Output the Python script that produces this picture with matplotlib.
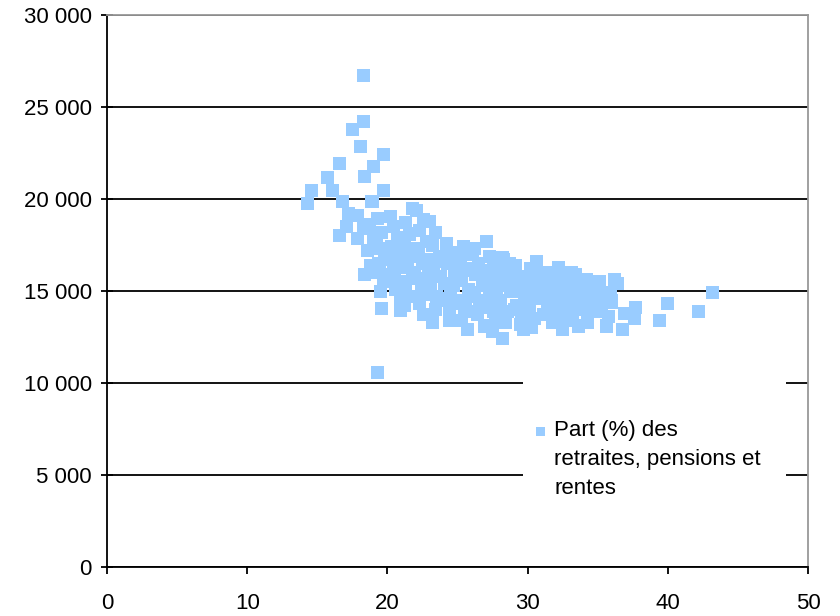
import numpy as np
import matplotlib
matplotlib.use("Agg")
import matplotlib.pyplot as plt
from matplotlib.patches import Rectangle
from matplotlib.ticker import FuncFormatter

plt.rcParams['font.family'] = ['Liberation Sans', 'DejaVu Sans']

# part (%) des retraites, pensions et rentes  /  revenu
part_x = [
    18.3, 18.3, 17.5, 18.1, 19.7, 16.6, 19.0, 18.4, 15.7, 14.6, 16.1, 19.7, 14.3, 16.8, 18.9,
    21.8, 17.2, 17.9, 19.3, 20.2, 17.1, 18.3, 16.6, 17.9, 19.6, 20.9, 19.3,
    18.6, 18.8, 18.4, 19.0, 18.7, 19.3, 19.5, 19.9,
    19.6, 19.2, 19.8, 19.4, 19.7, 19.5, 20.0,
    20.4, 20.7, 20.3, 20.8, 20.5, 20.2, 20.6, 20.9, 20.4, 20.3,
    21.3, 21.6, 21.2, 21.7, 21.4, 21.8, 21.3, 21.6, 21.2,
    22.1, 22.6, 22.3, 22.8, 22.2, 22.5, 22.9, 22.4, 22.7, 22.3, 22.6,
    23.0, 23.4, 23.2, 23.7, 23.3, 23.8, 23.1, 23.6, 23.4, 23.2,
    24.2, 24.6, 24.3, 24.8, 24.1, 24.5, 24.9, 24.4,
    25.4, 25.2, 25.7, 25.3, 25.8, 25.1, 25.6, 25.3, 25.7,
    26.1, 26.5, 26.3, 26.8, 26.2, 26.6, 26.4, 26.9,
    27.1, 27.3, 27.6, 27.2, 27.8, 27.4, 27.1, 27.7, 27.5,
    28.2, 28.5, 28.3, 28.8, 28.1, 28.6, 28.4, 28.2,
    29.1, 29.5, 29.3, 29.8, 29.2, 29.6, 29.7,
    30.2, 30.6, 30.4, 30.8, 30.1, 30.5, 30.3,
    31.3, 31.7, 31.2, 31.6, 31.4, 31.8,
    32.2, 32.6, 32.4, 32.8, 32.3, 32.7, 32.5,
    33.1, 33.5, 33.3, 33.8, 33.2, 33.6,
    34.2, 34.6, 34.4, 34.8, 34.3,
    35.1, 35.5, 35.3, 35.8, 35.6,
    36.2, 35.9, 36.4, 36.9, 36.8,
    37.7, 37.6, 39.4, 40.0, 42.2, 43.2,
    24.0, 25.0, 26.0, 27.0, 28.0, 29.0, 30.0, 31.0, 32.0, 33.0,
    23.5, 24.7, 25.9, 27.3, 28.7, 30.2, 31.5, 32.9, 34.1, 35.2,
    21.0, 22.0, 23.0, 24.2, 26.2, 28.3, 30.6, 33.4, 34.9, 36.0,
    21.9, 22.9, 23.9, 24.9, 25.9, 26.9, 27.9, 28.9, 29.9, 30.9, 31.9, 32.9, 33.9, 34.7, 35.4,
    21.1, 22.1, 23.1, 24.1, 25.1, 26.1, 27.1, 28.1, 29.1, 30.1, 31.1, 32.1, 33.1, 34.1, 35.1,
    20.1, 21.0, 22.0, 23.0, 24.4, 25.5, 26.6, 27.6, 28.7, 29.5, 30.7, 31.9, 33.0, 34.0, 36.0,
]
revenu_y = [
    26700, 24200, 23800, 22850, 22420, 21930, 21760, 21220, 21160, 20450, 20450, 20450, 19750, 19850, 19850,
    19470, 19200, 19090, 18930, 19040, 18490, 18380, 18000, 17840, 14070, 13960, 10580,
    17200, 16400, 15900, 17900, 18600, 16000, 17300, 16700,
    18200, 17600, 16900, 16500, 15500, 15000, 15900,
    18500, 17900, 17400, 16800, 16200, 15600, 15100, 14600, 16600, 17100,
    18700, 18100, 17500, 16900, 16300, 15800, 15200, 14700, 14200,
    19400, 18900, 18300, 17700, 17100, 16500, 15900, 15400, 14800, 14300, 13700,
    18800, 18200, 17500, 16900, 16300, 15800, 15200, 14600, 14000, 13300,
    17600, 17100, 16500, 16000, 15400, 14900, 14300, 13800,
    17400, 16800, 16200, 15600, 15100, 14500, 14000, 13400, 12900,
    17000, 16500, 15900, 15300, 14800, 14200, 13700, 13100,
    17700, 16900, 16300, 15700, 15200, 14600, 14100, 13500, 12800,
    16800, 16200, 15600, 15000, 14500, 13900, 13300, 12400,
    16400, 15800, 15300, 14700, 14200, 13600, 12900,
    16200, 15700, 15100, 14600, 14000, 13500, 13000,
    16000, 15500, 15000, 14400, 13900, 13300,
    16300, 15700, 15100, 14600, 14000, 13400, 12900,
    16000, 15400, 14900, 14300, 13700, 13100,
    15600, 15000, 14500, 13900, 13300,
    15500, 14800, 14200, 13600, 13100,
    15600, 14900, 15400, 13800, 12900,
    14100, 13500, 13400, 14300, 13900, 14900,
    16600, 15700, 16100, 15500, 15300, 15000, 14900, 14800, 14700, 14500,
    14700, 15300, 14700, 14900, 16000, 15900, 14800, 15500, 14900, 14000,
    16400, 15700, 16200, 17200, 17300, 16700, 16600, 15900, 14400, 14400,
    16000, 15600, 16600, 15800, 14900, 16100, 15900, 15400, 15600, 15400, 14600, 14200, 14600, 15300, 14400,
    15500, 14700, 16700, 14500, 16300, 13900, 14400, 14100, 14000, 14300, 13700, 15400, 13600, 15200, 13900,
    16700, 17600, 17300, 15000, 13400, 13900, 14500, 13900, 16500, 13200, 16000, 15800, 15700, 14000, 14500,
]

serie_label = "Part (%) des\nretraites, pensions et\nrentes"

fig = plt.figure(figsize=(8.4, 6.16), dpi=100)
ax = fig.add_axes([0.1274, 0.0795, 0.9619 - 0.1274, 0.9756 - 0.0795])

ax.scatter(part_x, revenu_y, marker='s', s=88, color='#99CCFF', edgecolors='none', zorder=3)

ax.set_xlim(0, 50)
ax.set_ylim(0, 30000)
ax.set_xticks(np.arange(0, 51, 10))
ax.set_yticks(np.arange(0, 30001, 5000))
ax.yaxis.set_major_formatter(FuncFormatter(lambda v, p: f"{int(v):,}".replace(",", " ")))

ax.grid(axis='y', color='black', linewidth=1.3, zorder=1)
ax.set_axisbelow(True)
for s in ['left', 'bottom']:
    ax.spines[s].set_color('black')
    ax.spines[s].set_linewidth(1.3)
for s in ['top', 'right']:
    ax.spines[s].set_color('#999999')
    ax.spines[s].set_linewidth(1.3)
ax.tick_params(axis='y', direction='inout', length=8, width=1.3, labelsize=16, pad=7)
ax.tick_params(axis='x', direction='out', length=5, width=1.3, labelsize=16, pad=14)

# legend box drawn by hand (white box over the gridlines, marker next to first line)
ax.add_patch(Rectangle((29.7, 3100), 18.7, 7200, facecolor='white', edgecolor='none', zorder=4))
ax.scatter([30.9], [7350], marker='s', s=45, color='#99CCFF', edgecolors='none', zorder=5)
ax.text(31.9, 8000, serie_label, ha='left', va='top', fontsize=16, linespacing=1.5, zorder=5)

fig.savefig("out.png", dpi=100)
